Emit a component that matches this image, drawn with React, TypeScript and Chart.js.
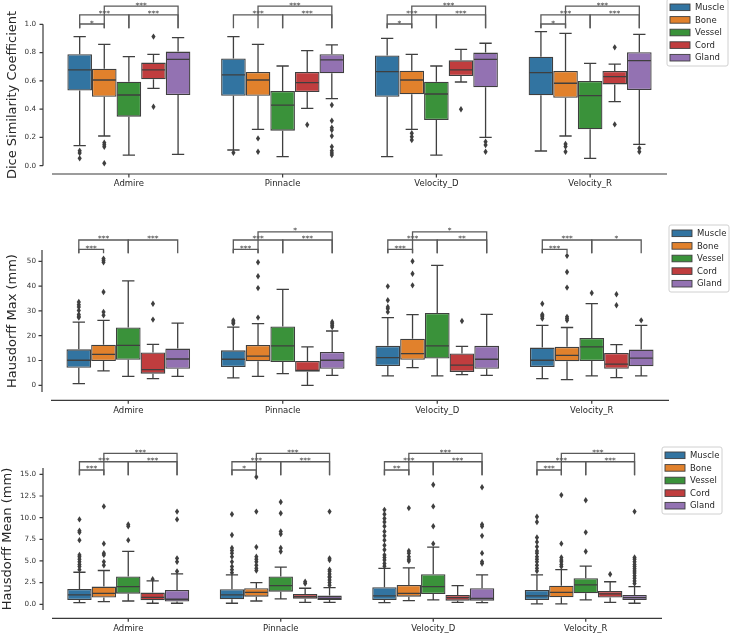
import React, { useEffect, useRef } from "react";
import { Chart, registerables } from "chart.js";

Chart.register(...registerables);

const CATEGORIES = ["Admire", "Pinnacle", "Velocity_D", "Velocity_R"];
const STRUCTURES = ["Muscle", "Bone", "Vessel", "Cord", "Gland"];
const STRUCTURE_COLORS = ["#3274a1", "#e1812c", "#3a923a", "#c03d3e", "#9372b2"];
const EDGE = "#3f3f3f";
const FONT = "'DejaVu Sans', 'Liberation Sans', sans-serif";

// ---------- Dice Similarity Coefficient: [category][structure] ----------
const DICE_LOW = [
  [0.142, 0.21, 0.075, 0.547, 0.08],
  [0.111, 0.257, 0.064, 0.406, 0.474],
  [0.064, 0.257, 0.075, 0.592, 0.2],
  [0.104, 0.21, 0.052, 0.453, 0.151],
];
const DICE_Q1 = [
  [0.531, 0.488, 0.347, 0.611, 0.5],
  [0.495, 0.495, 0.248, 0.521, 0.653],
  [0.488, 0.505, 0.323, 0.634, 0.554],
  [0.498, 0.481, 0.257, 0.575, 0.535],
];
const DICE_MEDIAN = [
  [0.677, 0.606, 0.5, 0.677, 0.752],
  [0.642, 0.606, 0.429, 0.587, 0.748],
  [0.665, 0.606, 0.507, 0.677, 0.752],
  [0.658, 0.583, 0.495, 0.63, 0.743],
];
const DICE_Q3 = [
  [0.788, 0.686, 0.594, 0.729, 0.807],
  [0.759, 0.663, 0.528, 0.663, 0.788],
  [0.78, 0.672, 0.594, 0.745, 0.8],
  [0.771, 0.67, 0.599, 0.67, 0.802],
];
const DICE_HIGH = [
  [0.913, 0.858, 0.771, 0.788, 0.906],
  [0.913, 0.858, 0.705, 0.814, 0.854],
  [0.901, 0.788, 0.705, 0.823, 0.866],
  [0.948, 0.936, 0.724, 0.719, 0.929],
];
const DICE_OUTLIERS = [
  [[0.106, 0.09, 0.052], [0.163, 0.148, 0.134, 0.017], [], [0.913, 0.417], []],
  [[0.092], [0.193, 0.099], [], [0.29], [0.429, 0.318, 0.269, 0.252, 0.21, 0.134, 0.106, 0.09, 0.075]],
  [[], [0.229, 0.205, 0.182], [], [0.399], [0.17, 0.146, 0.099]],
  [[], [0.153, 0.136, 0.099], [], [0.837, 0.292], [0.123, 0.099]],
];
const DICE_TICKS = [0, 0.2, 0.4, 0.6, 0.8, 1.0];

// ---------- Hausdorff Max (mm) ----------
const HMAX_LOW = [
  [0.7, 5.8, 3.6, 2.7, 3.6],
  [3.0, 3.6, 4.7, 0.0, 4.0],
  [3.8, 7.1, 3.8, 4.3, 4.0],
  [2.7, 2.3, 3.8, 3.1, 3.8],
];
const HMAX_Q1 = [
  [7.1, 9.8, 10.3, 4.7, 6.7],
  [7.4, 9.7, 9.4, 5.5, 6.7],
  [7.8, 10.3, 10.8, 5.4, 6.7],
  [7.4, 9.7, 9.8, 6.7, 7.7],
];
const HMAX_MEDIAN = [
  [10.1, 12.5, 16.1, 6.3, 10.6],
  [10.5, 11.8, 15.9, 6.0, 10.1],
  [11.2, 12.8, 15.9, 8.1, 10.5],
  [10.1, 12.1, 15.5, 8.5, 11.0],
];
const HMAX_Q3 = [
  [14.5, 16.4, 23.3, 13.2, 14.8],
  [14.1, 16.3, 23.7, 9.8, 13.4],
  [15.9, 18.8, 29.2, 12.8, 15.9],
  [15.2, 15.5, 19.1, 13.0, 14.4],
];
const HMAX_HIGH = [
  [25.5, 26.2, 42.1, 16.5, 25.1],
  [23.5, 24.9, 38.7, 15.5, 21.9],
  [27.3, 28.5, 48.4, 15.7, 28.6],
  [24.2, 23.3, 32.9, 16.4, 24.2],
];
const HMAX_OUTLIERS = [
  [[27.3, 27.8, 28.6, 30.2, 31.6, 32.5, 33.6], [28.2, 29.6, 37.6, 49.6, 50.4, 51.1], [], [26.5, 32.9], []],
  [[24.9, 25.5, 26.2], [27.3, 39.2, 44.0, 49.6], [], [], [23.5, 24.2, 24.9, 25.5]],
  [[29.6, 30.9, 31.6, 34.3, 39.9], [40.3, 45.0, 50.0], [], [25.9], []],
  [[26.9, 27.6, 28.1, 28.6, 32.9], [26.2, 26.9, 27.6, 39.4, 45.7, 52.2], [37.2], [32.3, 36.7], [26.2]],
];
const HMAX_TICKS = [0, 10, 20, 30, 40, 50];

// ---------- Hausdorff Mean (mm) ----------
const HMEAN_LOW = [
  [0.19, 0.31, 0.38, 0.12, 0.12],
  [0.12, 0.38, 0.62, 0.23, 0.23],
  [0.19, 0.42, 0.5, 0.23, 0.19],
  [0.05, 0.04, 0.5, 0.23, 0.12],
];
const HMEAN_Q1 = [
  [0.5, 0.77, 1.23, 0.46, 0.31],
  [0.58, 0.88, 1.46, 0.65, 0.5],
  [0.5, 0.88, 1.19, 0.42, 0.42],
  [0.5, 0.8, 1.27, 0.77, 0.5],
];
const HMEAN_MEDIAN = [
  [1.08, 1.27, 2.04, 0.8, 0.58],
  [1.08, 1.38, 2.15, 0.88, 0.69],
  [0.96, 1.27, 2.04, 0.77, 0.69],
  [0.96, 1.38, 2.23, 1.19, 0.77],
];
const HMEAN_Q3 = [
  [1.77, 2.04, 3.2, 1.35, 1.65],
  [1.73, 1.85, 3.2, 1.19, 1.0],
  [1.96, 2.23, 3.46, 1.08, 1.85],
  [1.65, 2.15, 3.0, 1.54, 1.08],
];
const HMEAN_HIGH = [
  [3.7, 3.9, 6.1, 2.7, 3.5],
  [3.4, 2.5, 4.3, 1.85, 1.92],
  [4.15, 4.2, 6.6, 2.15, 3.4],
  [3.4, 4.0, 4.4, 2.6, 2.04],
];
const HMEAN_OUTLIERS = [
  [[4.0, 4.35, 4.6, 4.9, 5.2, 5.5, 5.7, 7.4, 8.3, 8.5, 9.8], [4.5, 4.9, 5.7, 5.9, 7.0, 11.3], [7.4, 9.0, 9.2], [2.9], [3.8, 4.9, 5.3, 9.8, 10.7]],
  [[3.65, 4.0, 4.35, 4.9, 5.5, 5.9, 6.2, 6.5, 8.0, 10.4], [3.9, 4.15, 4.5, 4.9, 5.2, 5.5, 6.6, 10.7, 14.7], [6.1, 6.5, 8.1, 8.4, 10.5, 11.8], [2.4, 2.6], [2.2, 2.5, 2.8, 3.1, 3.2, 3.5, 3.8, 4.0, 5.1, 5.3, 10.7]],
  [[4.4, 4.7, 5.1, 5.4, 5.7, 6.3, 6.8, 7.4, 7.9, 8.4, 9.0, 9.5, 9.9, 10.4, 10.9], [5.0, 5.2, 5.5, 5.9, 6.15, 11.1], [7.0, 9.0, 11.3, 13.8], [], [4.7, 4.9, 5.9, 7.9, 9.0, 9.2, 13.5]],
  [[3.85, 4.15, 4.5, 4.9, 5.2, 5.5, 5.9, 6.15, 6.65, 7.2, 7.7, 9.5, 10.1], [4.35, 4.6, 4.9, 5.1, 5.4, 7.0, 12.6], [6.1, 8.3, 12.0], [3.46], [2.4, 2.7, 3.0, 3.3, 3.6, 3.85, 4.1, 4.35, 4.6, 4.9, 5.2, 5.4, 10.7]],
];
const HMEAN_TICKS = [0, 2.5, 5, 7.5, 10, 12.5, 15];

// ---------- significance brackets: [category, structure A, structure B, level, label] ----------
type Bracket = [number, number, number, number, string];
const DICE_BRACKETS: Bracket[] = [
  [0, 0, 1, 0, "*"], [0, 0, 2, 1, "***"], [0, 2, 4, 1, "***"], [0, 1, 4, 2, "***"],
  [1, 0, 2, 1, "***"], [1, 2, 4, 1, "***"], [1, 1, 4, 2, "***"],
  [2, 0, 1, 0, "*"], [2, 0, 2, 1, "***"], [2, 2, 4, 1, "***"], [2, 1, 4, 2, "***"],
  [3, 0, 1, 0, "*"], [3, 0, 2, 1, "***"], [3, 2, 4, 1, "***"], [3, 1, 4, 2, "***"],
];
const HMAX_BRACKETS: Bracket[] = [
  [0, 0, 1, 0, "***"], [0, 0, 2, 1, "***"], [0, 2, 4, 1, "***"],
  [1, 0, 1, 0, "***"], [1, 0, 2, 1, "***"], [1, 2, 4, 1, "***"], [1, 1, 4, 2, "*"],
  [2, 0, 1, 0, "***"], [2, 0, 2, 1, "***"], [2, 2, 4, 1, "**"], [2, 1, 4, 2, "*"],
  [3, 0, 1, 0, "***"], [3, 0, 2, 1, "***"], [3, 2, 4, 1, "*"],
];
const HMEAN_BRACKETS: Bracket[] = [
  [0, 0, 1, 0, "***"], [0, 0, 2, 1, "***"], [0, 2, 4, 1, "***"], [0, 1, 4, 2, "***"],
  [1, 0, 1, 0, "*"], [1, 0, 2, 1, "***"], [1, 2, 4, 1, "***"], [1, 1, 4, 2, "***"],
  [2, 0, 1, 0, "**"], [2, 0, 2, 1, "***"], [2, 2, 4, 1, "***"], [2, 1, 4, 2, "***"],
  [3, 0, 1, 0, "***"], [3, 0, 2, 1, "***"], [3, 2, 4, 1, "***"], [3, 1, 4, 2, "***"],
];
// bracket heights in data units: [leg foot, level 0, level 1, level 2]
const DICE_BRACKET_Y = [0.972, 1.002, 1.066, 1.129];
const HMAX_BRACKET_Y = [53.2, 54.8, 58.6, 61.9];
const HMEAN_BRACKET_Y = [14.9, 15.5, 16.45, 17.42];

interface PanelSpec {
  top: number;
  height: number;
  area: { left: number; right: number; top: number; bottom: number };
  yMin: number;
  yMax: number;
  yTicks: number[];
  decimals: number;
  title: string;
  titleCenterX: number;
  low: number[][];
  q1: number[][];
  med: number[][];
  q3: number[][];
  high: number[][];
  outliers: number[][][];
  brackets: Bracket[];
  bracketY: number[];
  legendDy: number;
  legendW: number;
}

const PANELS: PanelSpec[] = [
  {
    top: 0, height: 200,
    area: { left: 52, right: 667, top: 24.3, bottom: 165.7 },
    yMin: 0, yMax: 1, yTicks: DICE_TICKS, decimals: 1,
    title: "Dice Similarity Coefficient", titleCenterX: 12.5,
    low: DICE_LOW, q1: DICE_Q1, med: DICE_MEDIAN, q3: DICE_Q3, high: DICE_HIGH, outliers: DICE_OUTLIERS,
    brackets: DICE_BRACKETS, bracketY: DICE_BRACKET_Y, legendDy: -25.3, legendW: 61,
  },
  {
    top: 200, height: 215,
    area: { left: 51, right: 669, top: 50, bottom: 192 },
    yMin: -2.7, yMax: 54.56, yTicks: HMAX_TICKS, decimals: 0,
    title: "Hausdorff Max (mm)", titleCenterX: 12.8,
    low: HMAX_LOW, q1: HMAX_Q1, med: HMAX_MEDIAN, q3: HMAX_Q3, high: HMAX_HIGH, outliers: HMAX_OUTLIERS,
    brackets: HMAX_BRACKETS, bracketY: HMAX_BRACKET_Y, legendDy: -25, legendW: 60,
  },
  {
    top: 415, height: 219,
    area: { left: 52, right: 662, top: 53, bottom: 195 },
    yMin: -0.66, yMax: 15.73, yTicks: HMEAN_TICKS, decimals: 1,
    title: "Hausdorff Mean (mm)", titleCenterX: 8,
    low: HMEAN_LOW, q1: HMEAN_Q1, med: HMEAN_MEDIAN, q3: HMEAN_Q3, high: HMEAN_HIGH, outliers: HMEAN_OUTLIERS,
    brackets: HMEAN_BRACKETS, bracketY: HMEAN_BRACKET_Y, legendDy: -21, legendW: 60,
  },
];

const boxExtras = {
  id: "boxExtras",
  afterDatasetsDraw(chart: any, _args: any, opts: any) {
    const spec: PanelSpec = opts.spec;
    const ctx: CanvasRenderingContext2D = chart.ctx;
    const ys = chart.scales.y;
    ctx.save();
    ctx.strokeStyle = EDGE;
    ctx.fillStyle = EDGE;
    ctx.lineWidth = 1.3;
    chart.data.datasets.forEach((_ds: any, h: number) => {
      const meta = chart.getDatasetMeta(h);
      meta.data.forEach((bar: any, c: number) => {
        const x = bar.x;
        const w = bar.width;
        const pLow = ys.getPixelForValue(spec.low[c][h]);
        const pQ1 = ys.getPixelForValue(spec.q1[c][h]);
        const pMed = ys.getPixelForValue(spec.med[c][h]);
        const pQ3 = ys.getPixelForValue(spec.q3[c][h]);
        const pHigh = ys.getPixelForValue(spec.high[c][h]);
        ctx.beginPath();
        ctx.moveTo(x, pQ1); ctx.lineTo(x, pLow);
        ctx.moveTo(x, pQ3); ctx.lineTo(x, pHigh);
        ctx.moveTo(x - w / 4, pLow); ctx.lineTo(x + w / 4, pLow);
        ctx.moveTo(x - w / 4, pHigh); ctx.lineTo(x + w / 4, pHigh);
        ctx.moveTo(x - w / 2 + 0.7, pMed); ctx.lineTo(x + w / 2 - 0.7, pMed);
        ctx.stroke();
        for (const v of spec.outliers[c][h]) {
          const py = ys.getPixelForValue(v);
          ctx.beginPath();
          ctx.moveTo(x, py - 3.2);
          ctx.lineTo(x + 2.1, py);
          ctx.lineTo(x, py + 3.2);
          ctx.lineTo(x - 2.1, py);
          ctx.closePath();
          ctx.fill();
        }
      });
    });
    ctx.restore();
  },
  afterDraw(chart: any, _args: any, opts: any) {
    const spec: PanelSpec = opts.spec;
    const ctx: CanvasRenderingContext2D = chart.ctx;
    const ys = chart.scales.y;
    const xs = chart.scales.x;
    const area = chart.chartArea;
    ctx.save();
    // offset spines and tick marks
    ctx.strokeStyle = "#3a3a3a";
    ctx.lineWidth = 1.2;
    const spineX = area.left - 9;
    const spineY = area.bottom + 8.3;
    ctx.beginPath();
    ctx.moveTo(spineX, area.top);
    ctx.lineTo(spineX, area.bottom);
    for (const t of spec.yTicks) {
      const py = ys.getPixelForValue(t);
      ctx.moveTo(spineX - 3.5, py);
      ctx.lineTo(spineX, py);
    }
    ctx.moveTo(area.left, spineY);
    ctx.lineTo(area.right, spineY);
    CATEGORIES.forEach((_c, i) => {
      const px = xs.getPixelForValue(i);
      ctx.moveTo(px, spineY);
      ctx.lineTo(px, spineY + 3.5);
    });
    ctx.stroke();

    // significance brackets
    ctx.strokeStyle = "#5a5a5a";
    ctx.fillStyle = "#3a3a3a";
    ctx.lineWidth = 1.3;
    ctx.font = `7.5px ${FONT}`;
    ctx.textAlign = "center";
    ctx.textBaseline = "alphabetic";
    const foot = ys.getPixelForValue(spec.bracketY[0]);
    for (const [c, a, b, level, label] of spec.brackets) {
      const xa = chart.getDatasetMeta(a).data[c].x;
      const xb = chart.getDatasetMeta(b).data[c].x;
      const yl = ys.getPixelForValue(spec.bracketY[level + 1]);
      ctx.beginPath();
      ctx.moveTo(xa, foot);
      ctx.lineTo(xa, yl);
      ctx.lineTo(xb, yl);
      ctx.lineTo(xb, foot);
      ctx.stroke();
      ctx.fillText(label, (xa + xb) / 2, yl + 1.5);
    }

    // legend
    const lx = area.right;
    const ly = area.top + spec.legendDy;
    const lw = spec.legendW;
    const lh = 67;
    ctx.beginPath();
    const r = 2;
    ctx.moveTo(lx + r, ly);
    ctx.lineTo(lx + lw - r, ly);
    ctx.quadraticCurveTo(lx + lw, ly, lx + lw, ly + r);
    ctx.lineTo(lx + lw, ly + lh - r);
    ctx.quadraticCurveTo(lx + lw, ly + lh, lx + lw - r, ly + lh);
    ctx.lineTo(lx + r, ly + lh);
    ctx.quadraticCurveTo(lx, ly + lh, lx, ly + lh - r);
    ctx.lineTo(lx, ly + r);
    ctx.quadraticCurveTo(lx, ly, lx + r, ly);
    ctx.closePath();
    ctx.fillStyle = "rgba(255,255,255,0.85)";
    ctx.fill();
    ctx.strokeStyle = "#d0d0d0";
    ctx.lineWidth = 1;
    ctx.stroke();
    ctx.font = `8.5px ${FONT}`;
    ctx.textAlign = "left";
    ctx.textBaseline = "middle";
    chart.data.datasets.forEach((ds: any, i: number) => {
      const cy = ly + 8.3 + i * 12.6;
      ctx.fillStyle = ds.backgroundColor;
      ctx.fillRect(lx + 3, cy - 3.3, 20, 6.6);
      ctx.strokeStyle = EDGE;
      ctx.lineWidth = 0.9;
      ctx.strokeRect(lx + 3, cy - 3.3, 20, 6.6);
      ctx.fillStyle = "#262626";
      ctx.fillText(ds.label, lx + 28, cy + 0.5);
    });
    ctx.restore();
  },
};

function makeConfig(spec: PanelSpec): any {
  return {
    type: "bar",
    data: {
      labels: CATEGORIES,
      datasets: STRUCTURES.map((name, h) => ({
        label: name,
        data: CATEGORIES.map((_c, c) => [spec.q1[c][h], spec.q3[c][h]]),
        backgroundColor: STRUCTURE_COLORS[h],
        borderColor: EDGE,
        borderWidth: 1.3,
        borderSkipped: false,
        categoryPercentage: 0.8,
        barPercentage: 1.0,
      })),
    },
    options: {
      responsive: false,
      animation: false,
      devicePixelRatio: 1,
      events: [],
      layout: {
        padding: { left: 0, top: spec.area.top, right: 731 - spec.area.right, bottom: 0 },
      },
      plugins: {
        legend: { display: false },
        tooltip: { enabled: false },
        boxExtras: { spec },
      },
      scales: {
        x: {
          type: "category",
          grid: { display: false, drawTicks: false },
          border: { display: false },
          ticks: {
            font: { family: FONT, size: 8.5, lineHeight: 1.2 },
            color: "#262626",
            padding: 13.2,
            maxRotation: 0,
            autoSkip: false,
          },
          afterFit: (s: any) => {
            s.height = spec.height - spec.area.bottom;
          },
        },
        y: {
          type: "linear",
          min: spec.yMin,
          max: spec.yMax,
          grid: { display: false, drawTicks: false },
          border: { display: false },
          ticks: {
            font: { family: FONT, size: 7.2 },
            color: "#333333",
            padding: spec.area.left - 36,
            callback: (v: any) => Number(v).toFixed(spec.decimals),
          },
          afterBuildTicks: (s: any) => {
            s.ticks = spec.yTicks.map((v) => ({ value: v }));
          },
          afterFit: (s: any) => {
            s.width = spec.area.left;
          },
          title: {
            display: true,
            text: spec.title,
            color: "#262626",
            font: { family: FONT, size: 13, lineHeight: 1 },
            padding: { top: spec.titleCenterX - 6.5, bottom: 0 },
          },
        },
      },
    },
    plugins: [boxExtras],
  };
}

function Panel({ spec }: { spec: PanelSpec }) {
  const ref = useRef<HTMLCanvasElement | null>(null);
  useEffect(() => {
    if (!ref.current) return;
    const chart = new Chart(ref.current, makeConfig(spec));
    return () => chart.destroy();
  }, [spec]);
  return (
    <canvas
      ref={ref}
      width={731}
      height={spec.height}
      style={{ position: "absolute", left: 0, top: spec.top, width: 731, height: spec.height }}
    />
  );
}

export default function App() {
  return (
    <div style={{ position: "absolute", left: 0, top: 0, width: 731, height: 634, background: "#ffffff", overflow: "hidden" }}>
      {PANELS.map((p, i) => (
        <Panel key={i} spec={p} />
      ))}
    </div>
  );
}
